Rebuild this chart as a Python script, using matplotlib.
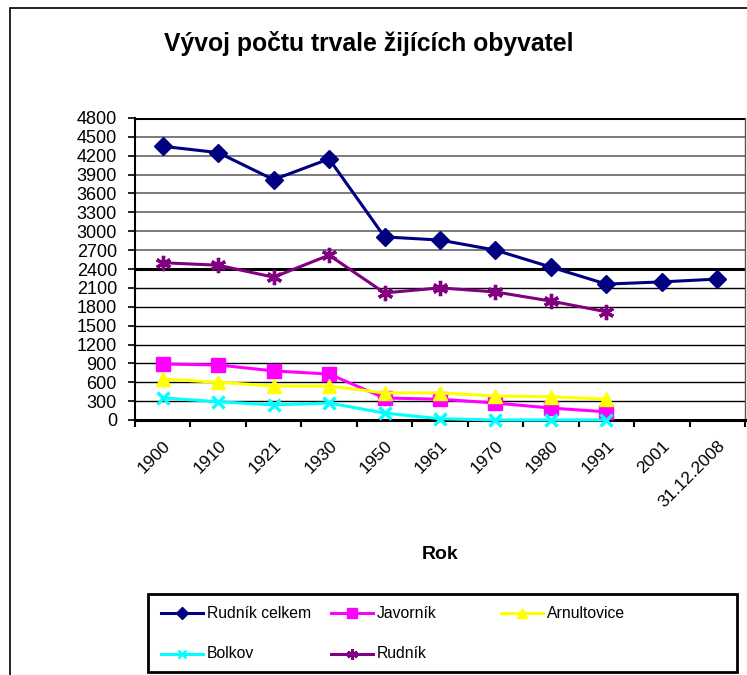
import numpy as np
import matplotlib.pyplot as plt
from matplotlib.patches import Rectangle
from matplotlib.lines import Line2D
from matplotlib.transforms import ScaledTranslation

plt.rcParams['font.family'] = ['Liberation Sans', 'DejaVu Sans']

# data
years = ['1900', '1910', '1921', '1930', '1950', '1961', '1970', '1980', '1991', '2001', '31.12.2008']
rudnik_celkem = [4350, 4250, 3820, 4150, 2910, 2860, 2700, 2430, 2160, 2195, 2240]
javornik = [890, 875, 780, 730, 350, 330, 270, 190, 130]
arnultovice = [650, 600, 540, 540, 430, 430, 380, 370, 330]
bolkov = [350, 290, 240, 270, 110, 20, 0, 0, 0]
rudnik = [2500, 2460, 2270, 2620, 2020, 2100, 2035, 1890, 1720]
y_ticks = np.arange(0, 4801, 300)

W, H = 747, 675
fig = plt.figure(figsize=(W / 100, H / 100), dpi=100)

# outer chart border (runs off the right and bottom edge)
fig.patches.append(Rectangle((10 / W, -0.05), 1.0, 1 - 8 / H + 0.05, transform=fig.transFigure,
                             fill=False, edgecolor='black', linewidth=1.2))

ax = fig.add_axes([135 / W, 1 - 420 / H, (745 - 135) / W, (420 - 118) / H])

x = np.arange(len(years))
series = [
    ('Rudník celkem', rudnik_celkem, '#000080', 'D', 9),
    ('Javorník', javornik, '#FF00FF', 's', 10),
    ('Arnultovice', arnultovice, '#FFFF00', '^', 10),
    ('Bolkov', bolkov, '#00FFFF', 'x', 9),
    ('Rudník', rudnik, '#800080', (6, 2, 0), 11),
]
for name, vals, col, mk, ms in series:
    xs = x[:len(vals)]
    ax.plot(xs, vals, color=col, linewidth=2.2, marker=mk, markersize=ms,
            markeredgewidth=2.4 if mk in ('x', (6, 2, 0)) else 1,
            markeredgecolor=col, markerfacecolor=col, zorder=3, clip_on=False)

# horizontal grid lines
for v in y_ticks[1:]:
    if v in (2400, 4800):
        ax.axhline(v, color='black', linewidth=2.2, zorder=1)
    elif v > 2400:
        ax.axhline(v, color='#707070', linewidth=1.3, zorder=1)
    else:
        ax.axhline(v, color='black', linewidth=1.0, zorder=1)

ax.set_xlim(-0.5, len(years) - 0.5)
ax.set_ylim(0, 4800)
ax.set_yticks(y_ticks)
ax.set_yticklabels([str(v) for v in y_ticks], fontsize=13)
ax.set_xticks(x)
ax.set_xticklabels(years, rotation=45, ha='right', rotation_mode='anchor', fontsize=12.5)
shift = ScaledTranslation(-5 / 100, 0, fig.dpi_scale_trans)
for lab in ax.get_xticklabels():
    lab.set_transform(lab.get_transform() + shift)
ax.set_xticks(np.arange(len(years) + 1) - 0.5, minor=True)
ax.tick_params(axis='x', which='major', length=0, pad=13)
ax.tick_params(axis='x', which='minor', length=5, width=1.5, direction='out')
ax.tick_params(axis='y', length=5, width=1.2, direction='out', pad=8)

ax.spines['top'].set_visible(False)
ax.spines['right'].set_color('#555555')
ax.spines['right'].set_linewidth(1)
ax.spines['left'].set_linewidth(1.5)
ax.spines['bottom'].set_linewidth(2.2)

ax.set_xlabel('Rok', fontsize=14, fontweight='bold', labelpad=26)
fig.text(369 / W, 1 - 43 / H, 'Vývoj počtu trvale žijících obyvatel', fontsize=17.8,
         fontweight='bold', ha='center', va='center')

# legend box drawn in pixel positions, three fixed-width columns
fig.patches.append(Rectangle((148 / W, 1 - 672 / H), (737 - 148) / W, (672 - 594) / H,
                             transform=fig.transFigure, fill=False, edgecolor='black',
                             linewidth=2))
leg_pos = {
    'Rudník celkem': (161, 613), 'Javorník': (331, 613), 'Arnultovice': (501, 613),
    'Bolkov': (161, 654), 'Rudník': (331, 654),
}
for name, vals, col, mk, ms in series:
    px, py = leg_pos[name]
    fy = 1 - py / H
    fig.add_artist(Line2D([px / W, (px + 42) / W], [fy, fy], transform=fig.transFigure,
                          color=col, linewidth=2.2))
    fig.add_artist(Line2D([(px + 21) / W], [fy], transform=fig.transFigure,
                          marker=mk, markersize=ms * 0.7, color=col, markeredgecolor=col,
                          markeredgewidth=1.8 if mk in ('x', (6, 2, 0)) else 1))
    fig.text((px + 46) / W, fy, name, fontsize=11.3, ha='left', va='center')

fig.savefig('out.png', dpi=100)
